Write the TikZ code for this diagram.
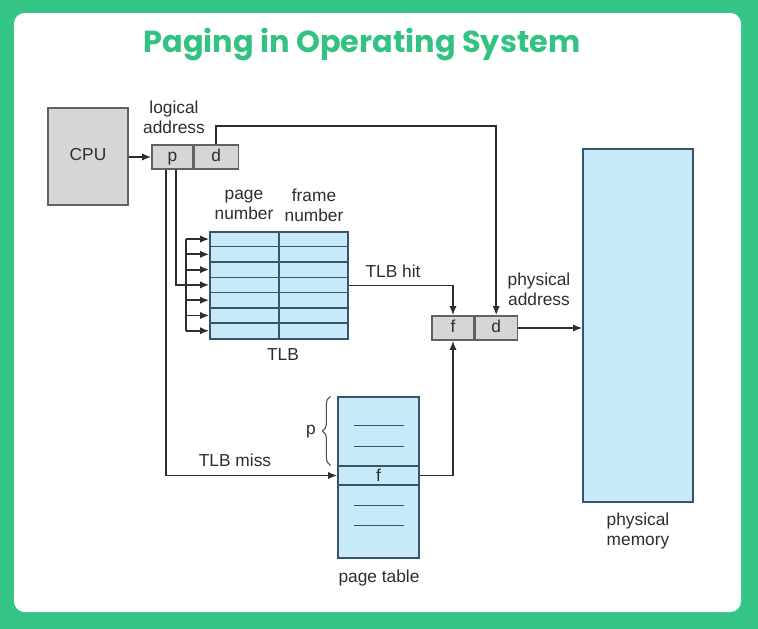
\documentclass[tikz,border=0pt]{standalone}
\usepackage{fontspec}
\setmainfont{Liberation Sans}
\newfontfamily\titlefont{Poppins}
\usetikzlibrary{arrows.meta,calc,decorations.pathreplacing}
\definecolor{gfgreen}{HTML}{35C587}
\definecolor{titlegreen}{HTML}{34C283}
\definecolor{boxgray}{HTML}{D6D6D6}
\definecolor{lightblue}{HTML}{C8E9F7}
\definecolor{inkline}{HTML}{2E2E2E}
\definecolor{rowline}{HTML}{35566B}
\tikzset{
  lbl/.style={font=\fontsize{13}{15}\selectfont, text=inkline, align=center, inner sep=0pt},
  graybox/.style={draw=inkline!75, fill=boxgray, line width=0.9pt, inner sep=0pt,
    font=\fontsize{13}{15}\selectfont, text=inkline, text height=9pt, text depth=2.5pt},
  bluebox/.style={draw=rowline, fill=lightblue, line width=0.9pt, inner sep=0pt},
  conn/.style={draw=inkline, line width=1.4pt},
  arr/.style={conn, -{Latex[length=7pt,width=5.5pt]}},
  rowsep/.style={draw=rowline, line width=1pt},
}
\begin{document}
\begin{tikzpicture}[x=0.75pt,y=-0.75pt]
% background
\fill[gfgreen] (0,0) rectangle (758,629);
\fill[white, rounded corners=8pt] (14,13) rectangle (741,612);
\useasboundingbox (0,0) rectangle (758,629);
% title
\node[text=titlegreen, font=\titlefont\bfseries\fontsize{22.8}{26}\selectfont, inner sep=0pt] (title) at (362,45) {Paging in Operating System};

% CPU
\node[graybox, minimum width=60pt, minimum height=72.75pt] (cpu) at (88,156.5) {CPU};
% logical address
\node[graybox, minimum width=30.75pt, minimum height=18pt] (p) at (172.5,157) {p};
\node[graybox, minimum width=33pt, minimum height=18pt, anchor=west] (d) at (p.east) {d};
\node[lbl] (lalbl) at (174,117) {logical\\address};

% TLB
\node[bluebox, minimum width=103.5pt, minimum height=80.25pt] (tlb) at (279,285.5) {};
\foreach \i in {1,...,6} {
  \draw[rowsep] ($(tlb.north west)+(0,\i*15.286)$) -- ($(tlb.north east)+(0,\i*15.286)$);
}
\draw[rowsep] (tlb.north) -- (tlb.south);
\foreach \i in {1,...,7} {
  \coordinate (r\i) at ($(tlb.north west)+(0,\i*15.286-7.643)$);
}
\node[lbl] (pnum) at (244,205) {page\\number};
\node[lbl] (fnum) at (314,205) {frame\\number};
\node[lbl] (tlblbl) at (283,355) {TLB};

% physical address
\node[graybox, minimum width=31.5pt, minimum height=18pt] (pf) at (453,328) {f};
\node[graybox, minimum width=31.5pt, minimum height=18pt, anchor=west] (pd) at (pf.east) {d};
\node[lbl] (palbl) at (539,289) {physical\\address};

% physical memory
\node[bluebox, minimum width=82.5pt, minimum height=264.75pt] (mem) at (638,325.5) {};
\node[lbl] (memlbl) at (638,531) {physical\\memory};

% page table
\node[bluebox, minimum width=60.75pt, minimum height=120.75pt] (pt) at (378.5,477.5) {};
\node[bluebox, minimum width=60.75pt, minimum height=14.25pt, font=\fontsize{13}{15}\selectfont, text=inkline] (ptf) at (378.5,475.5) {f};
\foreach \y in {426,447,506,526} {
  \draw[rowsep] ($(pt.north)+(-25,\y-397)$) -- ($(pt.north)+(25,\y-397)$);
}
\draw[decorate, decoration={brace, amplitude=6pt}, draw=inkline!85, line width=0.8pt]
  ($(ptf.north west)+(-7,0)$) -- ($(pt.north west)+(-7,0)$);
\node[lbl] (plbl) at (311,432) {p};
\node[lbl] (ptlbl) at (379,578) {page table};

% connectors
\draw[arr] (cpu.east |- p.west) -- (p.west);
\draw[arr] (d.north) -- ++(0,-18) -| (pd.north);
\draw[arr] ($(p.south)+(3.5,0)$) |- (r4);
\coordinate (bustop) at ($(r1)+(-23,0)$);
\coordinate (busbot) at ($(r7)+(-23,0)$);
\draw[conn] (bustop) -- (busbot);
\foreach \i in {1,2,3,5,6,7} {
  \draw[arr] ($(r\i)+(-23,0)$) -- (r\i);
}
\draw[arr] ($(p.south)+(-6.5,0)$) |- (ptf.west);
\node[lbl] (misslbl) at (235,460) {TLB miss};
\draw[arr] (tlb.east) -| (pf.north);
\node[lbl] (hitlbl) at (393,271) {TLB hit};
\draw[arr] (ptf.east) -| (pf.south);
\draw[arr] (pd.east) -- (mem.west |- pd.east);
\end{tikzpicture}
\end{document}
